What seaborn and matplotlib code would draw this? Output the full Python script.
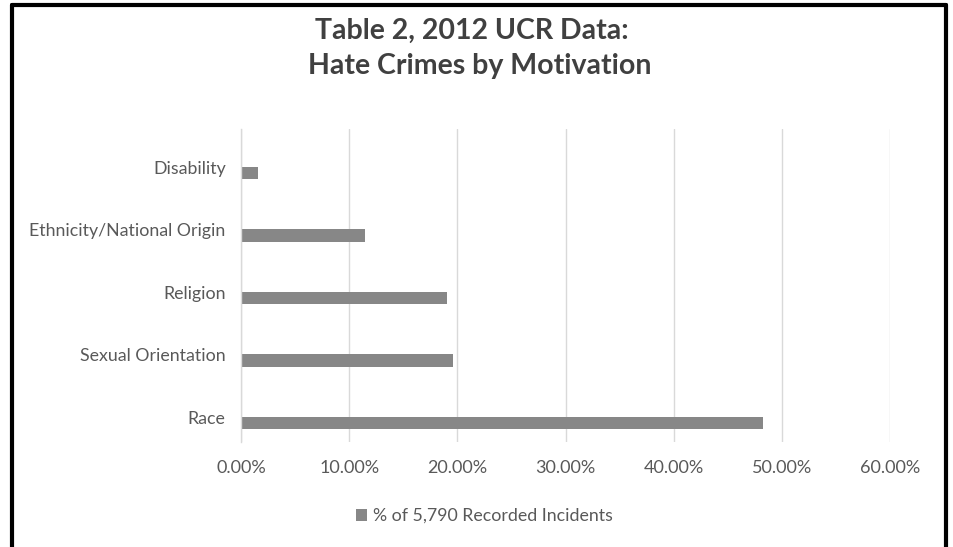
import matplotlib
matplotlib.use("Agg")
import matplotlib.pyplot as plt
import matplotlib.transforms as mtransforms
from matplotlib.lines import Line2D
from matplotlib.patches import Patch
from matplotlib.ticker import FuncFormatter, MultipleLocator
import seaborn as sns
import pandas as pd

# Share of 5,790 recorded hate-crime incidents by bias motivation (2012 UCR)
motivations = ["Disability", "Ethnicity/National Origin", "Religion",
               "Sexual Orientation", "Race"]
percent_of_incidents = [1.6, 11.5, 19.0, 19.6, 48.3]
series_name = "% of 5,790 Recorded Incidents"
x_ticks = [0, 10, 20, 30, 40, 50, 60]

sns.set_theme(style="white")
plt.rcParams["font.family"] = ["Lato", "DejaVu Sans"]

text_gray = "#595959"
bar_gray = "#878787"
grid_gray = "#d9d9d9"

# A second, empty series keeps the bars in the lower half of each band,
# the way a clustered bar chart lays them out.
blank = "_pad"
df = pd.DataFrame({
    "motivation": motivations + motivations,
    "pct": percent_of_incidents + [0.0] * len(motivations),
    "series": [series_name] * len(motivations) + [blank] * len(motivations),
})

fig = plt.figure(figsize=(9.54, 5.47), dpi=100)
fig.patch.set_facecolor("white")
ax = fig.add_axes([241 / 954, 1 - 442 / 547, (890 - 241) / 954, (442 - 129) / 547])

sns.barplot(data=df, x="pct", y="motivation", hue="series",
            hue_order=[blank, series_name], order=motivations,
            palette={blank: bar_gray, series_name: bar_gray},
            width=0.8, gap=0.5, dodge=True, orient="h",
            legend=False, ax=ax, saturation=1, linewidth=0)

ax.set_xlim(x_ticks[0], x_ticks[-1])
ax.set_ylim(len(motivations) - 0.5, -0.5)
ax.xaxis.set_major_locator(MultipleLocator(10))
ax.xaxis.set_major_formatter(FuncFormatter(lambda v, _: f"{v:.2f}%"))
ax.set_xlabel("")
ax.set_ylabel("")
ax.grid(axis="x", color=grid_gray, linewidth=1)
ax.set_axisbelow(True)
for side in ["top", "right", "bottom"]:
    ax.spines[side].set_visible(False)
ax.spines["left"].set_color(grid_gray)
ax.spines["left"].set_linewidth(1)
ax.tick_params(axis="x", length=0, pad=13, labelsize=13, labelcolor=text_gray)
ax.tick_params(axis="y", length=0, pad=11, labelsize=12.8, labelcolor=text_gray)

# Category names sit slightly below the band centre
shift = mtransforms.ScaledTranslation(0, -6 / 72, fig.dpi_scale_trans)
for lbl in ax.get_yticklabels():
    lbl.set_verticalalignment("center")
    lbl.set_transform(lbl.get_transform() + shift)

fig.text(0.495, 1 - 31 / 547, "Table 2, 2012 UCR Data:", ha="center", va="center",
         fontsize=20.5, fontweight="bold", color="#404040")
fig.text(0.503, 1 - 66 / 547, "Hate Crimes by Motivation", ha="center", va="center",
         fontsize=20.5, fontweight="bold", color="#404040")

fig.legend(handles=[Patch(facecolor=bar_gray, edgecolor="none", label=series_name)],
           loc="center", bbox_to_anchor=(484 / 954, 1 - 516 / 547), frameon=False,
           fontsize=12.8, labelcolor=text_gray, handlelength=0.65, handleheight=0.65,
           handletextpad=0.3)

# Outer frame (open at the bottom)
frame = dict(color="black", linewidth=3, transform=fig.transFigure)
fig.add_artist(Line2D([12 / 954, 12 / 954], [1 - 5 / 547, -0.05], **frame))
fig.add_artist(Line2D([946 / 954, 946 / 954], [1 - 5 / 547, -0.05], **frame))
fig.add_artist(Line2D([12 / 954, 946 / 954], [1 - 5 / 547, 1 - 5 / 547], **frame))

fig.savefig("out.png", dpi=100)
